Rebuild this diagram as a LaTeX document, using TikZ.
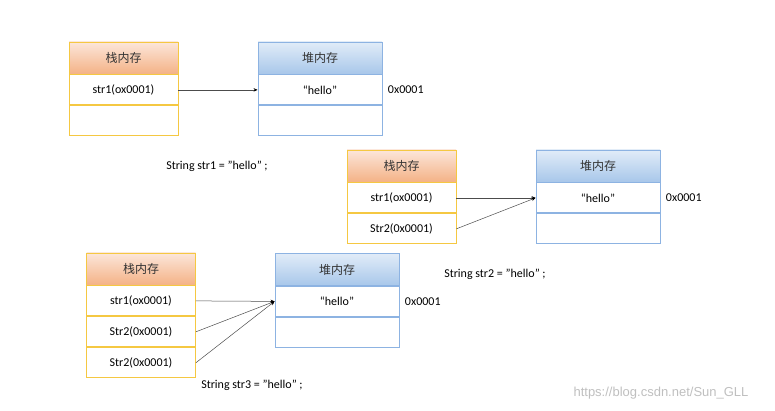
\documentclass[tikz,border=0pt]{standalone}
\usepackage{fontspec}
\setmainfont{Carlito}
\newfontfamily\cjk{Noto Sans CJK SC}
\newfontfamily\wmfont{Liberation Sans}
\usepackage{tikz}
\usetikzlibrary{arrows.meta, positioning}
\definecolor{stackline}{HTML}{F5C842}
\definecolor{stacktop}{HTML}{FCE6DA}
\definecolor{stackbot}{HTML}{F4B286}
\definecolor{heapline}{HTML}{8DB3E2}
\definecolor{heaptop}{HTML}{E1ECF8}
\definecolor{heapbot}{HTML}{A8C7EA}
\newcommand\cellh{30pt}
\tikzset{stackhead/.style={rectangle, draw=stackline, line width=0.9pt, top color=stacktop, bottom color=stackbot, minimum width=109pt, minimum height=32pt, text=black!80, font=\cjk\fontsize{12}{12}\selectfont}}
\tikzset{stackcell/.style={rectangle, draw=stackline, line width=0.9pt, fill=white, minimum width=109pt, minimum height=\cellh, font=\fontsize{12}{12}\selectfont}}
\tikzset{heaphead/.style={rectangle, draw=heapline, line width=0.9pt, top color=heaptop, bottom color=heapbot, minimum width=124pt, minimum height=32pt, text=black!80, font=\cjk\fontsize{12}{12}\selectfont}}
\tikzset{heapcell/.style={rectangle, draw=heapline, line width=0.9pt, fill=white, minimum width=124pt, minimum height=\cellh, font=\fontsize{12}{12}\selectfont}}
\tikzset{addr/.style={font=\fontsize{12}{12}\selectfont}}
\tikzset{caption/.style={font=\fontsize{12}{12}\selectfont}}
\tikzset{ptr/.style={draw=black!70, line width=0.5pt, -{Stealth[length=4pt,width=3.5pt,black]}}}

\begin{document}
\begin{tikzpicture}[x=1pt, y=-1pt]
\useasboundingbox (0,0) rectangle (775,411);
% str1
\node[stackhead] (s1h) at (123.5,58) {栈内存};
\node[stackcell, below=0pt of s1h] (s1a) {str1(ox0001)};
\node[stackcell, below=0pt of s1a] (s1b) {};
\node[heaphead] (h1h) at (320,58) {堆内存};
\node[heapcell, below=0pt of h1h] (h1a) {“hello”};
\node[heapcell, below=0pt of h1a] (h1b) {};
\node[addr, right=2pt of h1a] (a1) {0x0001};
\draw[ptr] (s1a.east) -- (h1a.west);
\node[caption] (c1) at (217,166) {String str1 = "hello" ;};
% str2
\node[stackhead] (s2h) at (401.5,166) {栈内存};
\node[stackcell, below=0pt of s2h] (s2a) {str1(ox0001)};
\node[stackcell, below=0pt of s2a] (s2b) {Str2(0x0001)};
\node[heaphead] (h2h) at (598,166) {堆内存};
\node[heapcell, below=0pt of h2h] (h2a) {“hello”};
\node[heapcell, below=0pt of h2a] (h2b) {};
\node[addr, right=2pt of h2a] (a2) {0x0001};
\foreach \s in {s2a, s2b}
	\draw[ptr] (\s.east) -- (h2a.west);
\node[caption] (c2) at (495,274) {String str2 = "hello" ;};
% str3
\node[stackhead] (s3h) at (141,269) {栈内存};
\node[stackcell, below=0pt of s3h] (s3a) {str1(ox0001)};
\node[stackcell, below=0pt of s3a] (s3b) {Str2(0x0001)};
\node[stackcell, below=0pt of s3b] (s3c) {Str2(0x0001)};
\node[heaphead] (h3h) at (337,269.5) {堆内存};
\node[heapcell, below=0pt of h3h] (h3a) {“hello”};
\node[heapcell, below=0pt of h3a] (h3b) {};
\node[addr, right=2pt of h3a] (a3) {0x0001};
\foreach \s in {s3a, s3b, s3c}
	\draw[ptr] (\s.east) -- (h3a.west);
\node[caption] (c3) at (252,385) {String str3 = "hello" ;};
\node[font=\wmfont\fontsize{13}{13}\selectfont, text=black!25] (wm) at (661,393) {https://blog.csdn.net/Sun\_GLL};
\end{tikzpicture}
\end{document}
